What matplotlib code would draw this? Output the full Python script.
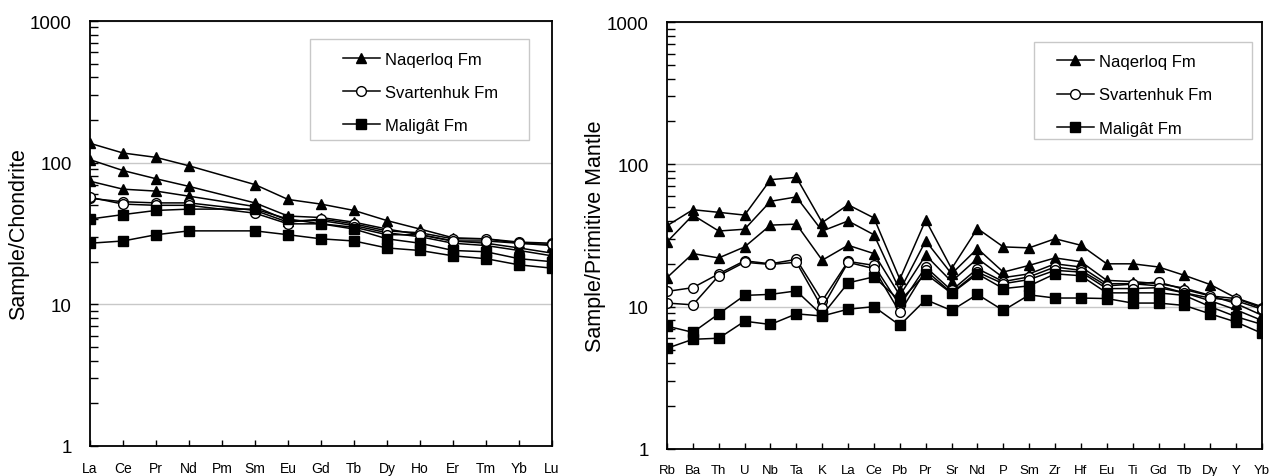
import numpy as np
import matplotlib
matplotlib.use("Agg")
from matplotlib import pyplot as plt
from matplotlib.patches import Rectangle
from matplotlib.ticker import LogLocator, NullFormatter, FixedLocator

plt.rcParams['font.family'] = ['Liberation Sans', 'DejaVu Sans']

# REE, chondrite normalised (Pm not analysed)
ree = ["La", "Ce", "Pr", "Nd", "Pm", "Sm", "Eu", "Gd", "Tb", "Dy", "Ho", "Er", "Tm", "Yb", "Lu"]
nan = np.nan
ree_naq1 = [137, 117, 109, 95, nan, 70, 55, 51, 46, 39, 34, 29.5, 29, 27, 26]
ree_naq2 = [105, 88, 77, 68, nan, 52, 42, 41, 38, 34, 31, 28, 27, 25, 23]
ree_naq3 = [74, 65, 63, 58, nan, 49, 39, 39, 36, 32, 30, 27, 26, 24, 22]
ree_sv1 = [56, 53, 52, 52, nan, 46, 38, 40, 37, 33, 32, 29, 29, 27.5, 27]
ree_sv2 = [57, 51, 50, 50, nan, 44, 37, 37, 35, 31, 31, 28, 28, 27, 26.5]
ree_mal1 = [40, 43, 46, 47, nan, 47, 40, 37, 34, 29, 27, 24, 23.5, 21, 20]
ree_mal2 = [27, 28, 31, 33, nan, 33, 31, 29, 28, 25, 24, 22, 21, 19, 18]

# trace elements, primitive mantle normalised
te = ["Rb", "Ba", "Th", "U", "Nb", "Ta", "K", "La", "Ce", "Pb", "Pr", "Sr", "Nd", "P",
      "Sm", "Zr", "Hf", "Eu", "Ti", "Gd", "Tb", "Dy", "Y", "Yb"]
te_naq1 = [37, 48, 46, 44, 78, 81, 39, 52, 42, 15.6, 40.6, 18.5, 35.4, 26.3,
           25.9, 30, 27, 20, 20, 19, 16.6, 14.3, 11.5, 10]
te_naq2 = [28.5, 44, 34, 35, 55, 59, 34, 40, 32, 13, 29, 17, 25.6, 17.5,
           19.5, 22, 20.7, 15.3, 15, 14.5, 13.5, 12, 10.5, 8.7]
te_naq3 = [16, 23.6, 22, 26.3, 37.4, 38, 21.2, 27, 23.6, 12, 23, 15, 21.8, 16,
           17, 20, 19, 14.5, 14.5, 14, 12.5, 11, 9.5, 8]
te_sv1 = [12.8, 13.6, 17, 21, 20, 21.5, 11, 20.8, 19.5, 10.2, 19, 13, 18.5, 15,
          16.2, 19, 18, 14, 14.4, 14.9, 13.2, 11.9, 11.4, 9.8]
te_sv2 = [10.6, 10.3, 16.5, 20.5, 19.8, 20.5, 9.8, 20.5, 18.5, 9.1, 18, 12.5, 17.5, 14.5,
          15.5, 18, 17.5, 13.4, 13.4, 13.6, 12.5, 11.5, 11, 9.6]
te_mal1 = [7.3, 6.6, 8.9, 12, 12.2, 12.9, 8.7, 14.7, 16.2, 11, 17, 12.4, 17, 13.4,
           14, 17, 16.5, 12.5, 12.5, 12.5, 12, 10, 8.5, 7.5]
te_mal2 = [5.1, 5.9, 6.0, 7.9, 7.5, 8.9, 8.6, 9.6, 10, 7.4, 11.2, 9.4, 12.2, 9.4,
           12.1, 11.5, 11.5, 11.4, 10.6, 10.6, 10.2, 8.9, 7.8, 6.5]

labels = ["Naqerloq Fm", "Svartenhuk Fm", "Maligât Fm"]

W, H = 1271, 477


def draw(ax, cats, groups, ylabel, xfs):
    xs = np.arange(len(cats))
    styles = [dict(marker="^", mfc="k", ms=7), dict(marker="o", mfc="w", ms=7),
              dict(marker="s", mfc="k", ms=6.5)]
    handles = []
    for grp, st in zip(groups, styles):
        for k, vals in enumerate(grp):
            v = np.array(vals, dtype=float)
            m = ~np.isnan(v)
            h, = ax.plot(xs[m], v[m], color="k", lw=1.1, mec="k", mew=1.0, **st)
            if k == 0:
                handles.append(h)
    ax.set_yscale("log")
    ax.set_ylim(1, 1000)
    ax.set_xlim(0, len(cats) - 1)
    ax.yaxis.set_major_locator(FixedLocator([1, 10, 100, 1000]))
    ax.set_yticklabels(["1", "10", "100", "1000"], fontsize=13.5)
    ax.yaxis.set_minor_locator(LogLocator(base=10, subs=np.arange(2, 10)))
    ax.yaxis.set_minor_formatter(NullFormatter())
    ax.set_xticks(xs)
    ax.set_xticklabels(cats, fontsize=xfs)
    ax.tick_params(axis="y", which="both", direction="in", length=6, width=1, pad=13)
    ax.tick_params(axis="x", direction="in", length=4, width=1, pad=11)
    ax.grid(axis="y", which="major", color="#c8c8c8", lw=1)
    ax.set_axisbelow(True)
    for s in ax.spines.values():
        s.set_linewidth(1.3)
    ax.set_ylabel(ylabel, fontsize=15.5, labelpad=1)
    return handles


fig = plt.figure(figsize=(W / 100, H / 100), dpi=100)
ax1 = fig.add_axes([90/W, 30/H, 462/W, 425/H])
ax2 = fig.add_axes([667/W, 27/H, 595/W, 427/H])

h1 = draw(ax1, ree, [[ree_naq1, ree_naq2, ree_naq3], [ree_sv1, ree_sv2], [ree_mal1, ree_mal2]],
          "Sample/Chondrite", 10)
h2 = draw(ax2, te, [[te_naq1, te_naq2, te_naq3], [te_sv1, te_sv2], [te_mal1, te_mal2]],
          "Sample/Primitive Mantle", 9.5)

# legend boxes (pixel coords: box left, top, right, bottom; handle start x, first row top y)
for h, box, anchor in [(h1, (310, 40, 529, 141), (343, 52.5)),
                       (h2, (1034, 43, 1252, 140), (1057, 55))]:
    x0, y0, x1, y1 = box
    fig.patches.append(Rectangle((x0 / W, 1 - y1 / H), (x1 - x0) / W, (y1 - y0) / H,
                                 transform=fig.transFigure, facecolor="white",
                                 edgecolor="#c8c8c8", lw=1.0, zorder=5))
    leg = fig.legend(h, labels, loc="upper left",
                     bbox_to_anchor=(anchor[0] / W, 1 - anchor[1] / H),
                     bbox_transform=fig.transFigure, fontsize=12, frameon=False,
                     borderpad=0, labelspacing=1.1, handlelength=2.2,
                     handletextpad=0.3, borderaxespad=0)
    leg.set_zorder(6)

fig.savefig("out.png", dpi=100)
